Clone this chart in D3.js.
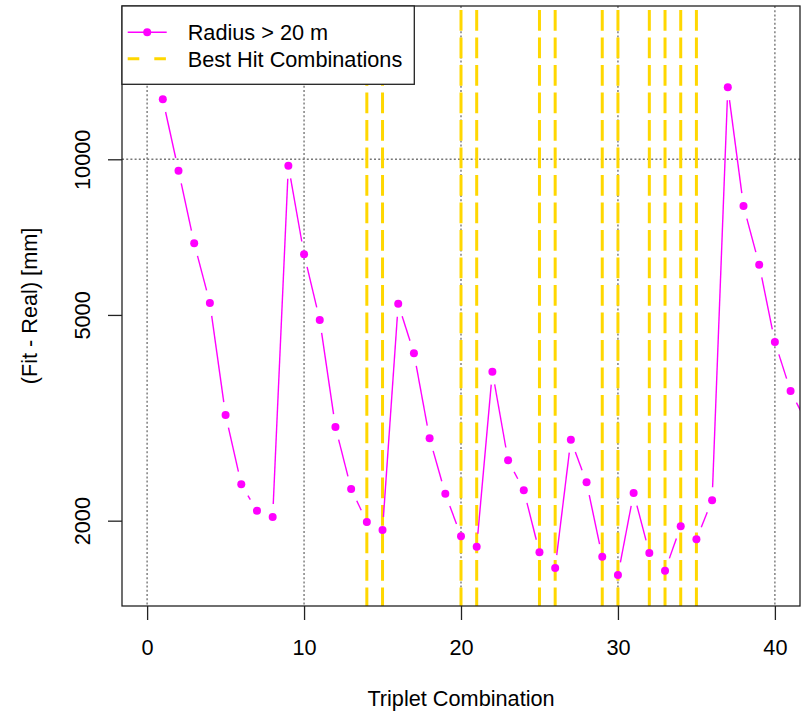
<!DOCTYPE html>
<html><head><meta charset="utf-8">
<script src="https://cdn.jsdelivr.net/npm/d3@7"></script>
<style>body{margin:0;background:#fff}svg{display:block}text{font-family:"Liberation Sans",Arial,sans-serif;fill:#000}</style>
</head><body>
<svg id="c" width="802" height="711"></svg>
<script>
const combos = d3.range(1, 43);
const deltas = [13064,9505,6879,5273,3202,2351,2091,2033,9719,6550,
  4889,3035,2303,1989,1919,5254,4217,2886,2255,1866,
  1781,3884,2617,2290,1737,1620,2868,2372,1703,1570,
  2262,1732,1601,1951,1841,2190,13780,8122,6254,4432,
  3563,3104];
const bestHits = [14,15,20,21,25,26,29,30,32,33,34,35];
const xTicks = [0,10,20,30,40];
const yTicks = [2000,5000,10000];
const yGrid = [10000];
const legendLabels = ["Radius > 20 m","Best Hit Combinations"];

const L=122,R=800,T=6,B=606;
const svg=d3.select("#c");
const x=d3.scaleLinear().domain([-1.6,41.6]).range([L,R]);
const y=d3.scaleLog().domain([Math.pow(10,3.136),Math.pow(10,4.2965)]).range([B,T]);
const fs="21.7px";

svg.append("defs").append("clipPath").attr("id","clip")
  .append("rect").attr("x",L).attr("y",T).attr("width",R-L).attr("height",B-T);

// grid
const grid=svg.append("g").attr("stroke","#777").attr("stroke-width",1.4).attr("stroke-dasharray","2,2.2");
grid.selectAll(".gx").data(xTicks).join("line").attr("x1",d=>x(d)).attr("x2",d=>x(d)).attr("y1",T).attr("y2",B);
grid.selectAll(".gy").data(yGrid).join("line").attr("x1",L).attr("x2",R).attr("y1",d=>y(d)).attr("y2",d=>y(d));

// best hit lines
svg.append("g").selectAll("line").data(bestHits).join("line")
  .attr("x1",d=>x(d)).attr("x2",d=>x(d)).attr("y1",T).attr("y2",B)
  .attr("stroke","#FFD700").attr("stroke-width",3)
  .attr("stroke-dasharray","20.7,6.8").attr("stroke-dashoffset",23.5);

// series (type "b": lines with gaps around points)
const pts=combos.map((c,i)=>[x(c),y(deltas[i])]);
const gap=13;
const segs=[];
for(let i=0;i<pts.length-1;i++){
  const [x0,y0]=pts[i],[x1,y1]=pts[i+1];
  const dx=x1-x0,dy=y1-y0,len=Math.hypot(dx,dy);
  if(len>2*gap){const ux=dx/len,uy=dy/len;
    segs.push([x0+ux*gap,y0+uy*gap,x1-ux*gap,y1-uy*gap]);}
}
const g=svg.append("g").attr("clip-path","url(#clip)");
g.selectAll("line").data(segs).join("line")
  .attr("x1",d=>d[0]).attr("y1",d=>d[1]).attr("x2",d=>d[2]).attr("y2",d=>d[3])
  .attr("stroke","#FF00FF").attr("stroke-width",1.4);
g.selectAll("circle").data(combos).join("circle")
  .attr("cx",(d)=>x(d)).attr("cy",(d,i)=>y(deltas[i])).attr("r",4).attr("fill","#FF00FF");

// box
svg.append("rect").attr("x",L).attr("y",T).attr("width",R-L).attr("height",B-T)
  .attr("fill","none").attr("stroke","#222").attr("stroke-width",1.3);

// x axis
const xa=svg.append("g").attr("transform",`translate(0,${B})`)
  .call(d3.axisBottom(x).tickValues(xTicks).tickSize(14).tickPadding(14).tickFormat(d3.format("d")));
xa.select(".domain").remove();
xa.selectAll("line").attr("stroke","#222").attr("stroke-width",1.3);
xa.selectAll("text").attr("font-size",fs).style("font-family","Liberation Sans, Arial, sans-serif").attr("fill","#000")
  .attr("dy",null).attr("y",49);

// y axis
const ya=svg.append("g").attr("transform",`translate(${L},0)`)
  .call(d3.axisLeft(y).tickValues(yTicks).tickSize(14).tickFormat(d3.format("d")));
ya.select(".domain").remove();
ya.selectAll("line").attr("stroke","#222").attr("stroke-width",1.3);
ya.selectAll("text").attr("font-size",fs).style("font-family","Liberation Sans, Arial, sans-serif").attr("fill","#000")
  .attr("x",null).attr("dy",null).attr("text-anchor","middle")
  .attr("transform","translate(-32,0) rotate(-90)");

// titles
svg.append("text").attr("x",(L+R)/2).attr("y",706).attr("text-anchor","middle").attr("font-size",fs).text("Triplet Combination");
svg.append("text").attr("transform",`translate(37,${(T+B)/2}) rotate(-90)`).attr("text-anchor","middle").attr("font-size",fs).text("(Fit - Real) [mm]");

// legend
const lg=svg.append("g");
lg.append("rect").attr("x",L).attr("y",T).attr("width",292.3).attr("height",78.3)
  .attr("fill","#fff").attr("stroke","#222").attr("stroke-width",1.3);
lg.append("line").attr("x1",127.7).attr("x2",166.7).attr("y1",32.3).attr("y2",32.3).attr("stroke","#FF00FF").attr("stroke-width",1.4);
lg.append("circle").attr("cx",147.2).attr("cy",32.3).attr("r",4).attr("fill","#FF00FF");
lg.append("line").attr("x1",127.7).attr("x2",166.7).attr("y1",58.7).attr("y2",58.7).attr("stroke","#FFD700").attr("stroke-width",3).attr("stroke-dasharray","11.6,15");
lg.selectAll("text").data(legendLabels).join("text").attr("x",187.7).attr("y",(d,i)=>40+i*26.5).attr("font-size",fs).text(d=>d);
</script>
</body></html>
